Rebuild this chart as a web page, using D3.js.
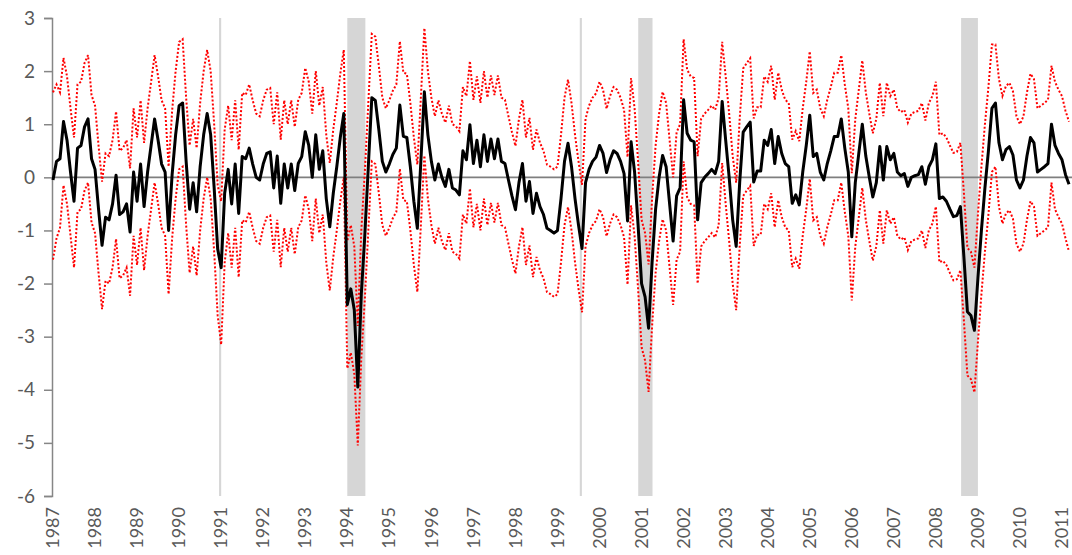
<!DOCTYPE html>
<html>
<head>
<meta charset="utf-8">
<script src="https://cdn.jsdelivr.net/npm/d3@7"></script>
<style>
body { margin: 0; background: #fff; }
svg text { font-family: Lato, "Open Sans", sans-serif; fill: #595959; }
</style>
</head>
<body>
<svg width="1072" height="555"></svg>
<script>
// monthly data, Jan 1987 onwards
var startYear = 1987;
var yearLabels = [1987,1988,1989,1990,1991,1992,1993,1994,1995,1996,1997,1998,1999,2000,2001,2002,2003,2004,2005,2006,2007,2008,2009,2010,2011];
var yTicks = [3,2,1,0,-1,-2,-3,-4,-5,-6];

var index = [
 -0.05,0.3,0.35,1.05,0.7,0.1,-0.45,0.55,0.6,0.95,1.1,0.35,
 0.15,-0.6,-1.28,-0.75,-0.8,-0.5,0.04,-0.7,-0.65,-0.5,-1.03,0.1,
 -0.45,0.25,-0.55,0.1,0.6,1.1,0.7,0.25,0.1,-1.0,0.05,0.8,
 1.35,1.4,0.3,-0.6,-0.1,-0.65,0.2,0.8,1.2,0.8,-0.2,-1.35,
 -1.7,-0.3,0.15,-0.5,0.25,-0.68,0.39,0.35,0.55,0.25,0.0,-0.05,
 0.25,0.45,0.48,-0.2,0.4,-0.49,0.25,-0.2,0.25,-0.25,0.26,0.39,
 0.86,0.6,0.0,0.8,0.15,0.5,-0.4,-0.93,-0.3,0.2,0.75,1.2,
 -2.4,-2.1,-2.5,-3.95,-2.2,-1.1,0.2,1.5,1.45,0.9,0.3,0.1,
 0.25,0.43,0.55,1.36,0.77,0.75,0.2,-0.45,-0.96,0.3,1.61,0.8,
 0.3,-0.05,0.25,0.0,-0.17,0.15,-0.2,-0.24,-0.33,0.5,0.33,0.99,
 0.26,0.7,0.2,0.8,0.3,0.72,0.35,0.72,0.3,0.26,-0.05,-0.35,
 -0.61,-0.1,0.26,-0.45,-0.08,-0.68,-0.3,-0.55,-0.7,-0.96,-1.0,-1.05,
 -1.0,-0.4,0.3,0.64,0.2,-0.4,-0.9,-1.34,-0.1,0.15,0.3,0.38,
 0.6,0.45,0.09,0.33,0.5,0.45,0.3,0.07,-0.82,0.67,0.1,-0.9,
 -2.0,-2.25,-2.84,-1.6,-0.6,0.0,0.41,0.2,-0.5,-1.2,-0.35,-0.2,
 1.46,0.83,0.7,0.67,-0.8,-0.1,0.0,0.07,0.15,0.07,0.3,1.43,
 0.7,0.0,-0.8,-1.3,-0.1,0.85,0.95,1.04,-0.09,0.12,0.12,0.7,
 0.6,0.9,0.26,0.77,0.45,0.26,0.2,-0.49,-0.33,-0.52,0.1,0.6,
 1.17,0.39,0.45,0.1,-0.05,0.26,0.5,0.77,0.77,1.1,0.55,0.1,
 -1.12,-0.1,0.45,1.0,0.4,0.0,-0.37,-0.1,0.58,-0.05,0.58,0.33,
 0.45,0.1,0.03,0.07,-0.17,0.0,0.03,0.05,0.2,-0.13,0.2,0.33,
 0.63,-0.4,-0.37,-0.45,-0.6,-0.74,-0.72,-0.55,-1.5,-2.53,-2.6,-2.88,
 -1.9,-1.0,-0.2,0.5,1.3,1.4,0.65,0.33,0.52,0.58,0.42,-0.05,
 -0.2,-0.05,0.4,0.75,0.65,0.1,0.15,0.2,0.26,1.0,0.6,0.45,
 0.33,0.05,-0.13
];

var upper = [
 1.6,1.75,1.6,2.25,1.9,1.3,0.75,1.75,1.8,2.15,2.3,1.55,
 1.35,0.6,-0.08,0.45,0.4,0.7,1.24,0.5,0.55,0.7,0.17,1.3,
 0.75,1.45,0.65,1.3,1.8,2.3,1.9,1.45,1.3,0.2,1.25,2.0,
 2.55,2.6,1.5,0.6,1.1,0.55,1.4,2.0,2.4,2.0,1.0,-0.15,
 -0.45,0.9,1.35,0.7,1.45,0.52,1.59,1.55,1.75,1.45,1.2,1.15,
 1.45,1.65,1.68,1.0,1.6,0.71,1.45,1.0,1.45,0.95,1.46,1.59,
 2.06,1.8,1.2,2.0,1.35,1.7,0.8,0.27,0.9,1.4,1.95,2.4,
 -1.2,-0.9,-1.3,-2.8,-1.0,0.1,1.4,2.7,2.65,2.1,1.5,1.3,
 1.45,1.63,1.75,2.56,1.97,1.95,1.4,0.75,0.24,1.5,2.81,2.0,
 1.5,1.15,1.45,1.2,1.03,1.35,1.0,0.96,0.87,1.7,1.53,2.19,
 1.46,1.9,1.4,2.0,1.5,1.92,1.55,1.92,1.5,1.46,1.15,0.85,
 0.59,1.1,1.46,0.75,1.12,0.52,0.9,0.65,0.5,0.24,0.2,0.15,
 0.2,0.8,1.5,1.84,1.4,0.8,0.3,-0.14,1.1,1.35,1.5,1.58,
 1.8,1.65,1.29,1.53,1.7,1.65,1.5,1.27,0.38,1.87,1.3,0.3,
 -0.8,-1.05,-1.64,-0.4,0.6,1.2,1.61,1.4,0.7,0.0,0.85,1.0,
 2.6,2.03,1.9,1.87,0.4,1.1,1.2,1.27,1.35,1.27,1.5,2.55,
 1.9,1.2,0.4,-0.1,1.1,2.05,2.15,2.24,1.11,1.32,1.32,1.9,
 1.8,2.1,1.46,1.97,1.65,1.46,1.4,0.71,0.87,0.68,1.3,1.8,
 2.37,1.59,1.65,1.3,1.15,1.46,1.7,1.97,1.97,2.3,1.75,1.3,
 0.08,1.1,1.65,2.2,1.6,1.2,0.83,1.1,1.78,1.15,1.78,1.53,
 1.65,1.3,1.23,1.27,1.03,1.2,1.23,1.25,1.4,1.07,1.4,1.53,
 1.8,0.8,0.83,0.75,0.6,0.46,0.48,0.65,-0.3,-1.33,-1.4,-1.7,
 -0.7,0.2,1.0,1.7,2.5,2.5,1.85,1.53,1.72,1.78,1.62,1.15,
 1.0,1.15,1.6,1.95,1.85,1.3,1.35,1.4,1.46,2.1,1.8,1.65,
 1.53,1.25,1.05
];

var lower = [
 -1.55,-1.15,-0.95,-0.15,-0.5,-1.1,-1.7,-0.65,-0.6,-0.25,-0.1,-0.85,
 -1.05,-1.8,-2.48,-1.95,-2.0,-1.7,-1.16,-1.9,-1.85,-1.7,-2.23,-1.1,
 -1.65,-0.95,-1.75,-1.1,-0.6,-0.1,-0.5,-0.95,-1.1,-2.2,-1.15,-0.4,
 0.15,0.2,-0.9,-1.8,-1.3,-1.85,-1.0,-0.4,0.0,-0.4,-1.4,-2.6,
 -3.15,-1.6,-1.05,-1.7,-0.95,-1.88,-0.81,-0.85,-0.65,-0.95,-1.2,-1.25,
 -0.95,-0.75,-0.72,-1.4,-0.8,-1.69,-0.95,-1.4,-0.95,-1.45,-0.94,-0.81,
 -0.34,-0.6,-1.2,-0.4,-1.05,-0.7,-1.6,-2.13,-1.5,-1.0,-0.45,0.0,
 -3.6,-3.3,-3.7,-5.05,-3.4,-2.3,-1.0,0.3,0.25,-0.3,-0.9,-1.1,
 -0.95,-0.77,-0.65,0.16,-0.43,-0.45,-1.0,-1.65,-2.16,-0.9,0.41,-0.4,
 -0.9,-1.25,-0.95,-1.2,-1.37,-1.05,-1.4,-1.44,-1.53,-0.7,-0.87,-0.21,
 -0.94,-0.5,-1.0,-0.4,-0.9,-0.48,-0.85,-0.48,-0.9,-0.94,-1.25,-1.55,
 -1.81,-1.3,-0.94,-1.65,-1.28,-1.88,-1.5,-1.75,-1.9,-2.16,-2.2,-2.25,
 -2.2,-1.6,-0.9,-0.56,-1.0,-1.6,-2.1,-2.54,-1.3,-1.05,-0.9,-0.82,
 -0.6,-0.75,-1.11,-0.87,-0.7,-0.75,-0.9,-1.13,-2.02,-0.53,-1.1,-2.1,
 -3.2,-3.45,-4.04,-2.8,-1.8,-1.2,-0.79,-1.0,-1.7,-2.4,-1.55,-1.4,
 0.3,-0.37,-0.5,-0.53,-2.0,-1.3,-1.2,-1.13,-1.05,-1.13,-0.9,0.27,
 -0.5,-1.2,-2.0,-2.5,-1.3,-0.35,-0.25,-0.16,-1.29,-1.08,-1.08,-0.5,
 -0.6,-0.3,-0.94,-0.43,-0.75,-0.94,-1.0,-1.69,-1.53,-1.72,-1.1,-0.6,
 -0.03,-0.81,-0.75,-1.1,-1.25,-0.94,-0.7,-0.43,-0.43,-0.1,-0.65,-1.1,
 -2.32,-1.3,-0.75,-0.2,-0.8,-1.2,-1.57,-1.3,-0.62,-1.25,-0.62,-0.87,
 -0.75,-1.1,-1.17,-1.13,-1.37,-1.2,-1.17,-1.15,-1.0,-1.33,-1.0,-0.87,
 -0.55,-1.6,-1.57,-1.65,-1.8,-1.94,-1.92,-1.75,-2.7,-3.73,-3.8,-4.05,
 -3.1,-2.2,-1.4,-0.7,0.1,0.2,-0.55,-0.87,-0.68,-0.62,-0.78,-1.25,
 -1.4,-1.25,-0.8,-0.45,-0.55,-1.1,-1.05,-1.0,-0.94,-0.1,-0.6,-0.75,
 -0.87,-1.15,-1.4
];

// shaded periods, in decimal years
var shadeStart = [1990.95, 1994.0, 1999.53, 2000.92, 2008.6];
var shadeEnd = [1991.0, 1994.43, 1999.58, 2001.26, 2009.0];

var svg = d3.select('svg');

var x = d3.scaleLinear().domain([1987, 2011]).range([53, 1062]);
var y = d3.scaleLinear().domain([-6, 3]).range([496, 18]);

function monthX(d, i){ return x(startYear + i / 12); }

// grey bars behind everything
svg.selectAll('rect.shade')
	.data(shadeStart)
	.enter().append('rect')
	.attr('class', 'shade')
	.attr('x', function(d){ return x(d); })
	.attr('width', function(d, i){ return x(shadeEnd[i]) - x(d); })
	.attr('y', y(3))
	.attr('height', y(-6) - y(3))
	.attr('fill', '#d6d6d6');

// y axis
var yAxis = d3.axisLeft(y)
	.tickValues(yTicks)
	.tickSize(8)
	.tickPadding(9)
	.tickFormat(function(d){ return String(d); });

var gy = svg.append('g').attr('transform', 'translate(52,0)').call(yAxis);
gy.selectAll('path, line').attr('stroke', '#868686').attr('stroke-width', 1.5);
gy.selectAll('text').attr('font-size', 19).style('font-family', 'Lato, sans-serif').attr('fill', '#595959');

// zero line
svg.append('line')
	.attr('x1', 52).attr('x2', 1072)
	.attr('y1', y(0)).attr('y2', y(0))
	.attr('stroke', '#7f7f7f')
	.attr('stroke-width', 1.8);

// year labels, rotated
svg.selectAll('text.year')
	.data(yearLabels)
	.enter().append('text')
	.attr('class', 'year')
	.attr('transform', function(d){ return 'translate(' + x(d) + ',507) rotate(-90)'; })
	.attr('dy', '0.34em')
	.attr('text-anchor', 'end')
	.attr('font-size', 18)
	.text(function(d){ return d; });

var line = d3.line()
	.x(monthX)
	.y(function(d){ return y(d); });

svg.append('path').datum(upper)
	.attr('d', line)
	.attr('fill', 'none')
	.attr('stroke', '#ff0000')
	.attr('stroke-width', 2)
	.attr('stroke-dasharray', '2,2');

svg.append('path').datum(lower)
	.attr('d', line)
	.attr('fill', 'none')
	.attr('stroke', '#ff0000')
	.attr('stroke-width', 2)
	.attr('stroke-dasharray', '2,2');

svg.append('path').datum(index)
	.attr('d', line)
	.attr('fill', 'none')
	.attr('stroke', '#000')
	.attr('stroke-width', 3)
	.attr('stroke-linejoin', 'round');
</script>
</body>
</html>
